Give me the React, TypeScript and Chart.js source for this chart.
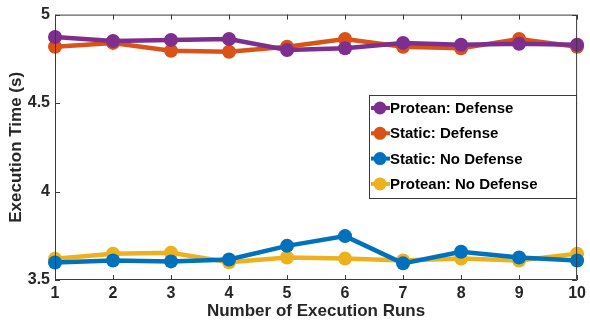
import React, { useEffect, useRef } from "react";
import { Chart, registerables } from "chart.js";

Chart.register(...registerables);

const runs = ["1", "2", "3", "4", "5", "6", "7", "8", "9", "10"];
const proteanDefense = [4.873, 4.851, 4.857, 4.862, 4.8, 4.81, 4.84, 4.83, 4.835, 4.83];
const staticDefense = [4.818, 4.84, 4.796, 4.79, 4.818, 4.862, 4.818, 4.81, 4.862, 4.818];
const staticNoDefense = [3.599, 3.61, 3.605, 3.616, 3.693, 3.748, 3.594, 3.66, 3.627, 3.61];
const proteanNoDefense = [3.62, 3.649, 3.654, 3.6, 3.627, 3.621, 3.61, 3.621, 3.61, 3.649];
const yTicks = [3.5, 4, 4.5, 5];

const seriesNames = ["Protean: Defense", "Static: Defense", "Static: No Defense", "Protean: No Defense"];
const seriesColors = ["#7E2F8E", "#D95319", "#0072BD", "#EDB120"];
const seriesValues = [proteanDefense, staticDefense, staticNoDefense, proteanNoDefense];

const FONT = "'Liberation Sans', Arial, sans-serif";
const AXIS_COLOR = "#3a3a3a";

const boxPlugin = {
  id: "matlabBox",
  afterDraw(chart: any) {
    const { ctx, chartArea: a, scales } = chart;
    const xs = scales.x;
    const ys = scales.y;
    ctx.save();
    ctx.strokeStyle = AXIS_COLOR;
    ctx.lineWidth = 1;
    ctx.beginPath();
    ctx.rect(a.left + 0.5, a.top + 0.5, a.right - a.left - 1, a.bottom - a.top - 1);
    ctx.stroke();
    const tl = 5;
    ctx.beginPath();
    runs.forEach((_, i) => {
      const px = Math.round(xs.getPixelForValue(i)) + 0.5;
      ctx.moveTo(px, a.bottom);
      ctx.lineTo(px, a.bottom - tl);
      ctx.moveTo(px, a.top);
      ctx.lineTo(px, a.top + tl);
    });
    yTicks.forEach((v) => {
      const py = Math.round(ys.getPixelForValue(v)) + 0.5;
      ctx.moveTo(a.left, py);
      ctx.lineTo(a.left + tl, py);
      ctx.moveTo(a.right, py);
      ctx.lineTo(a.right - tl, py);
    });
    ctx.stroke();

    // legend
    const lx = 369, ly = 95, lw = 207, lh = 103;
    ctx.fillStyle = "#ffffff";
    ctx.fillRect(lx, ly, lw, lh);
    ctx.strokeStyle = AXIS_COLOR;
    ctx.lineWidth = 1;
    ctx.strokeRect(lx + 0.5, ly + 0.5, lw, lh);
    ctx.font = `bold 15px ${FONT}`;
    ctx.textBaseline = "middle";
    ctx.textAlign = "left";
    seriesNames.forEach((name, i) => {
      const cy = ly + 13 + i * 25.3;
      ctx.strokeStyle = seriesColors[i];
      ctx.lineWidth = 4;
      ctx.beginPath();
      ctx.moveTo(lx + 2, cy);
      ctx.lineTo(lx + 21, cy);
      ctx.stroke();
      ctx.fillStyle = seriesColors[i];
      ctx.beginPath();
      ctx.arc(lx + 11, cy, 6.5, 0, Math.PI * 2);
      ctx.fill();
      ctx.fillStyle = "#000000";
      ctx.fillText(name, lx + 21, cy + 1);
    });
    ctx.restore();
  },
};

export default function App() {
  const ref = useRef<HTMLCanvasElement>(null);
  useEffect(() => {
    if (!ref.current) return;
    const chart = new Chart(ref.current, {
      type: "line",
      data: {
        labels: runs,
        datasets: seriesNames.map((name, i) => ({
          label: name,
          data: seriesValues[i],
          borderColor: seriesColors[i],
          backgroundColor: seriesColors[i],
          borderWidth: 4.5,
          pointRadius: 7,
          pointBorderWidth: 0,
          pointBackgroundColor: seriesColors[i],
          tension: 0,
        })),
      },
      options: {
        animation: false,
        responsive: false,
        devicePixelRatio: 1,
        layout: { padding: { top: 8, right: 8, left: 0, bottom: 0 } },
        plugins: { legend: { display: false }, tooltip: { enabled: false } },
        scales: {
          x: {
            type: "category",
            offset: false,
            grid: { display: false, drawTicks: false },
            border: { display: false },
            ticks: {
              color: "#262626",
              font: { family: FONT, size: 16, weight: "bold" },
              padding: 4,
              maxRotation: 0,
              autoSkip: false,
            },
            title: {
              display: true,
              text: "Number of Execution Runs",
              color: "#262626",
              font: { family: FONT, size: 17, weight: "bold" },
              padding: { top: 0, bottom: 4 },
            },
            afterFit: (s: any) => {
              s.height = 46;
            },
          },
          y: {
            min: 3.5,
            max: 5,
            grid: { display: false, drawTicks: false },
            border: { display: false },
            afterBuildTicks: (s: any) => {
              s.ticks = yTicks.map((v) => ({ value: v }));
            },
            ticks: {
              color: "#262626",
              font: { family: FONT, size: 16, weight: "bold" },
              padding: 5,
              callback: (v: any) => String(v),
            },
            title: {
              display: true,
              text: "Execution Time (s)",
              color: "#262626",
              font: { family: FONT, size: 17, weight: "bold" },
              padding: { top: 6, bottom: 0 },
            },
            afterFit: (s: any) => {
              s.width = 55;
            },
          },
        },
      },
      plugins: [boxPlugin],
    } as any);
    return () => chart.destroy();
  }, []);
  return (
    <div style={{ position: "fixed", left: 0, top: 0, width: 590, height: 326, background: "#fff" }}>
      <canvas ref={ref} width={590} height={326} />
    </div>
  );
}
